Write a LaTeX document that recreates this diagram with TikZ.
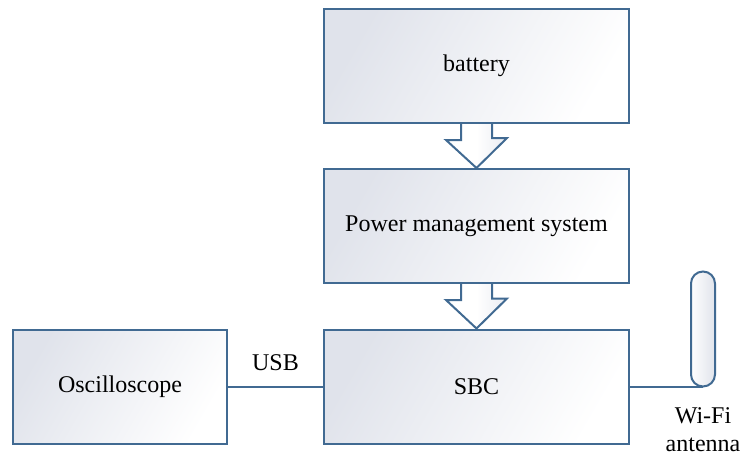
\documentclass[tikz,border=0pt]{standalone}
\usepackage{fontspec}
\usetikzlibrary{backgrounds}
\setmainfont{Liberation Serif}
\definecolor{edge}{RGB}{65,106,146}
\definecolor{boxshade}{RGB}{224,227,235}

\begin{document}
\begin{tikzpicture}[x=0.5pt,y=-0.5pt]
        \tikzset{
            block/.style={rectangle,draw=edge,line width=1pt,top color=boxshade,bottom color=white,shading angle=60,
                    minimum width=152.5pt,minimum height=57pt,font=\fontsize{12}{14}\selectfont},
            link/.style={draw=edge,line width=1pt},
            flow/.style={draw=edge,line width=1pt,line join=miter,left color=white,right color=boxshade!70,middle color=white},
            antenna/.style={rectangle,draw=edge,line width=1pt,rounded corners=6pt,minimum width=12pt,minimum height=57.5pt,
                    left color=white,right color=boxshade},
            caption/.style={font=\fontsize{12}{14}\selectfont,align=center}
        }
        \useasboundingbox (0,0) rectangle (741,461);

        \node[block] (bat) at (476.5,66) {battery};
        \node[block] (pms) at (476.5,226) {Power management system};
        \node[block] (sbc) at (476.5,386.5) {SBC};
        \node[block,minimum width=107pt] (osc) at (120,386.5) {Oscilloscope};

        \node[antenna] (ant) at (703,329) {};
        \node[caption] (wifi) at (703,430) {Wi-Fi\\antenna};

        \begin{scope}[on background layer]
            \foreach \a/\b in {bat/pms,pms/sbc}{
                    \path[flow] (\a.south) ++(-15.5,-4) -- ++(0,20) -- ++(-15,0) -- (\b.north)
                        -- ++(30.5,-30) -- ++(-15,0) -- ++(0,-20) -- cycle;
                }
        \end{scope}

        \draw[link] (osc) -- node[caption,above=4pt] (usb) {USB} (sbc);
        \draw[link] (sbc.east) -- (sbc.east -| ant.south);

    \end{tikzpicture}
\end{document}
